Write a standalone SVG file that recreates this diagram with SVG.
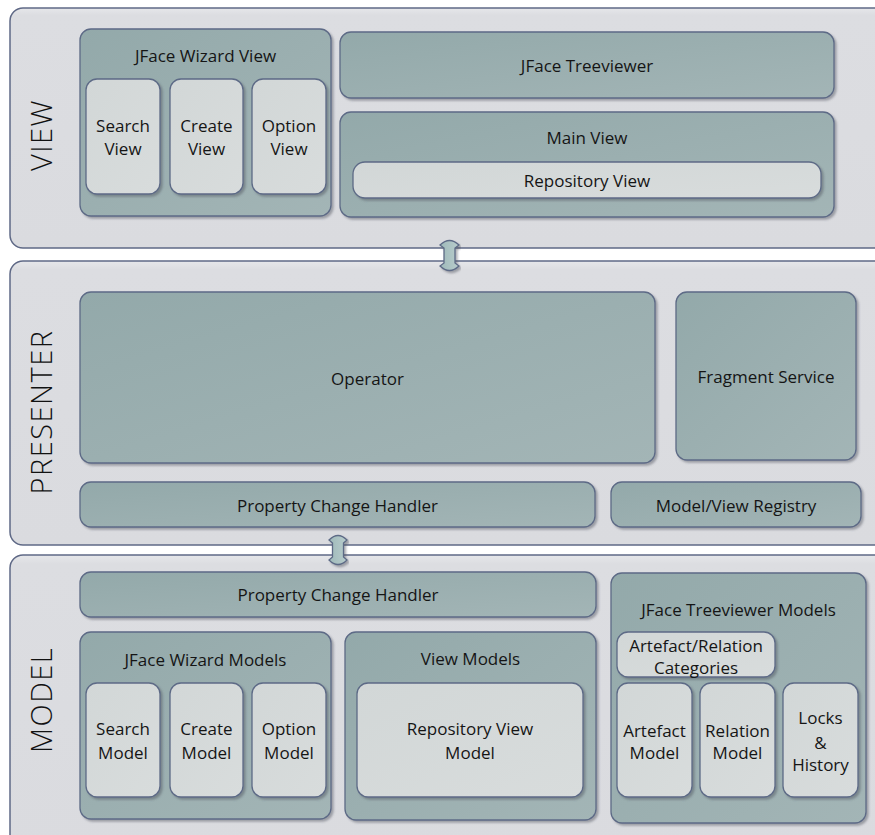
<svg xmlns="http://www.w3.org/2000/svg" width="875" height="835" viewBox="0 0 875 835">
<defs>
<linearGradient id="gPanel" x1="0" y1="0" x2="0" y2="1">
<stop offset="0" stop-color="#e6e7ea"/><stop offset="0.03" stop-color="#dcdde1"/><stop offset="1" stop-color="#dadbdf"/>
</linearGradient>
<linearGradient id="gTeal" x1="0" y1="0" x2="1" y2="1">
<stop offset="0" stop-color="#93a9aa"/><stop offset="1" stop-color="#a3b5b6"/>
</linearGradient>
<linearGradient id="gLight" x1="0" y1="0" x2="1" y2="1">
<stop offset="0" stop-color="#d2d7d7"/><stop offset="1" stop-color="#d8dcdc"/>
</linearGradient>
<linearGradient id="gArrow" x1="0" y1="0" x2="1" y2="0">
<stop offset="0" stop-color="#9fbaba"/><stop offset="1" stop-color="#b8cccc"/>
</linearGradient>
<filter id="sh" x="-10%" y="-10%" width="120%" height="130%">
<feDropShadow dx="2" dy="2" stdDeviation="1.2" flood-color="#4a4f5a" flood-opacity="0.45"/>
</filter>
</defs>
<style>
.panel{fill:url(#gPanel);stroke:#5f6986;stroke-width:1.5}
.teal{fill:url(#gTeal);stroke:#5d6a86;stroke-width:1.3;filter:url(#sh)}
.light{fill:url(#gLight);stroke:#5d6a86;stroke-width:1.3;filter:url(#sh)}
.arrow{fill:url(#gArrow);stroke:#5d6a86;stroke-width:1.3;filter:url(#sh)}
text{font-family:"Open Sans","Noto Sans","DejaVu Sans",sans-serif;font-size:17px;fill:#151515;text-anchor:middle;dominant-baseline:central}
.big{font-size:29px;font-weight:300;letter-spacing:1.5px;fill:#111}
</style>
<rect width="875" height="835" fill="#ffffff"/>

<g id="panel-view">
<rect class="panel" x="10" y="8" width="900" height="240" rx="13"/>
<text class="big" transform="translate(40,135) rotate(-90)">VIEW</text>
</g>
<g id="panel-presenter">
<rect class="panel" x="10" y="261" width="900" height="284" rx="13"/>
<text class="big" transform="translate(40,412) rotate(-90)">PRESENTER</text>
</g>
<g id="panel-model">
<rect class="panel" x="10" y="555" width="900" height="300" rx="13"/>
<text class="big" transform="translate(40,700) rotate(-90)">MODEL</text>
</g>

<!-- VIEW -->
<g id="jface-wizard-view">
<rect class="teal" x="80" y="29" width="251" height="187" rx="11"/>
<text x="205.5" y="55">JFace Wizard View</text>
</g>
<g id="search-view">
<rect class="light" x="86" y="79" width="74" height="115" rx="11"/>
<text x="123" y="125">Search</text><text x="123" y="148">View</text>
</g>
<g id="create-view">
<rect class="light" x="170" y="79" width="73" height="115" rx="11"/>
<text x="206.5" y="125">Create</text><text x="206.5" y="148">View</text>
</g>
<g id="option-view">
<rect class="light" x="252" y="79" width="74" height="115" rx="11"/>
<text x="289" y="125">Option</text><text x="289" y="148">View</text>
</g>
<g id="jface-treeviewer">
<rect class="teal" x="340" y="32" width="494" height="66" rx="11"/>
<text x="587" y="65">JFace Treeviewer</text>
</g>
<g id="main-view">
<rect class="teal" x="340" y="112" width="494" height="105" rx="11"/>
<text x="587" y="137">Main View</text>
</g>
<g id="repository-view">
<rect class="light" x="353" y="162" width="468" height="36" rx="12"/>
<text x="587" y="180">Repository View</text>
</g>

<!-- PRESENTER -->
<g id="operator">
<rect class="teal" x="80" y="292" width="575" height="171" rx="11"/>
<text x="367.5" y="378">Operator</text>
</g>
<g id="fragment-service">
<rect class="teal" x="676" y="292" width="180" height="168" rx="11"/>
<text x="766" y="376">Fragment Service</text>
</g>
<g id="presenter-property-change-handler">
<rect class="teal" x="80" y="482" width="515" height="45" rx="11"/>
<text x="337.5" y="505">Property Change Handler</text>
</g>
<g id="model-view-registry">
<rect class="teal" x="611" y="482" width="250" height="45" rx="11"/>
<text x="736" y="505">Model/View Registry</text>
</g>

<!-- MODEL -->
<g id="model-property-change-handler">
<rect class="teal" x="80" y="572" width="516" height="45" rx="11"/>
<text x="338" y="594">Property Change Handler</text>
</g>
<g id="jface-wizard-models">
<rect class="teal" x="80" y="632" width="251" height="187" rx="11"/>
<text x="205.5" y="659">JFace Wizard Models</text>
</g>
<g id="search-model">
<rect class="light" x="86" y="683" width="74" height="114" rx="11"/>
<text x="123" y="728">Search</text><text x="123" y="752">Model</text>
</g>
<g id="create-model">
<rect class="light" x="170" y="683" width="73" height="114" rx="11"/>
<text x="206.5" y="728">Create</text><text x="206.5" y="752">Model</text>
</g>
<g id="option-model">
<rect class="light" x="252" y="683" width="74" height="114" rx="11"/>
<text x="289" y="728">Option</text><text x="289" y="752">Model</text>
</g>
<g id="view-models">
<rect class="teal" x="345" y="632" width="251" height="188" rx="11"/>
<text x="470.5" y="658">View Models</text>
</g>
<g id="repository-view-model">
<rect class="light" x="357" y="683" width="226" height="114" rx="11"/>
<text x="470" y="728">Repository View</text><text x="470" y="752">Model</text>
</g>
<g id="jface-treeviewer-models">
<rect class="teal" x="611" y="573" width="255" height="250" rx="11"/>
<text x="738.5" y="609">JFace Treeviewer Models</text>
</g>
<g id="artefact-relation-categories">
<rect class="light" x="617" y="632" width="158" height="45" rx="11"/>
<text x="696" y="645">Artefact/Relation</text><text x="696" y="667">Categories</text>
</g>
<g id="artefact-model">
<rect class="light" x="617" y="683" width="75" height="114" rx="11"/>
<text x="654.5" y="730">Artefact</text><text x="654.5" y="752">Model</text>
</g>
<g id="relation-model">
<rect class="light" x="700" y="683" width="75" height="114" rx="11"/>
<text x="737.5" y="730">Relation</text><text x="737.5" y="752">Model</text>
</g>
<g id="locks-history">
<rect class="light" x="783" y="683" width="75" height="114" rx="11"/>
<text x="820.5" y="717">Locks</text><text x="820.5" y="742">&amp;</text><text x="820.5" y="764">History</text>
</g>

<g id="connectors">
<path class="arrow" d="M440,245 Q449.5,236 459,245 L455,248 L455,263 L459,266 Q449.5,275 440,266 L444,263 L444,248 Z"/>
<path class="arrow" d="M329,540 Q338,531 347,540 L343.5,543 L343.5,557 L347,560 Q338,569 329,560 L332.5,557 L332.5,543 Z"/>
</g>
</svg>
